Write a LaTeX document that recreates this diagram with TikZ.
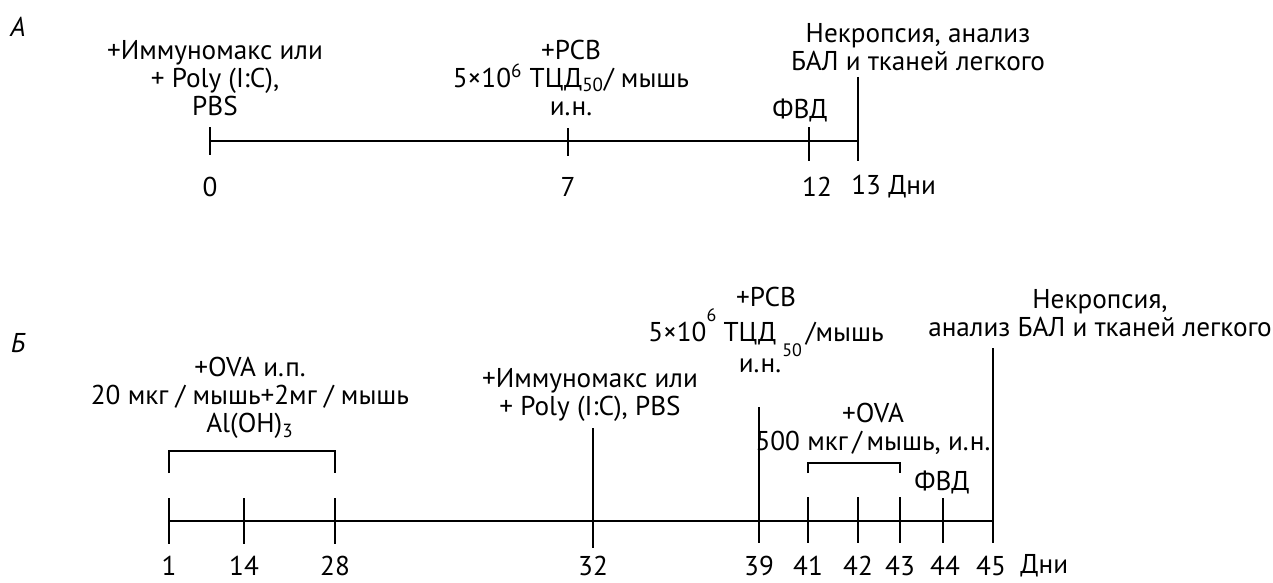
\documentclass[tikz,border=0pt]{standalone}
\usepackage{fontspec}
\setmainfont{PT Sans}
\usetikzlibrary{positioning}

\begin{document}
\begin{tikzpicture}[x=0.5pt, y=-0.5pt,
      lbl/.style={font=\fontsize{13.6}{14}\selectfont, inner sep=0pt, align=center},
      panel/.style={font=\fontsize{13.6}{14}\selectfont\itshape, inner sep=0pt},
      axis/.style={line width=1.3pt}
    ]
      \useasboundingbox (0,0) rectangle (1273,583);

      % --- panel A ---
      \node [panel] (pA) at (18,27) {А};
      \node [lbl] (immA) at (215,78) {+Иммуномакс или\\+ Poly (I:C),\\PBS};
      \node [lbl] (rsvA) at (571,78) {+РСВ\\5×10\textsuperscript{6} ТЦД\textsubscript{50}/ мышь\\и.н.};
      \node [lbl] (fvdA) at (800,110) {ФВД};
      \node [lbl] (necA) at (918,47) {Некропсия, анализ\\БАЛ и тканей легкого};

      \coordinate (a0) at (210,141);
      \coordinate (a13) at (858,141);
      \draw [axis] (a0) -- (a13);
      \draw [axis] (210,127) -- (210,155);
      \draw [axis] (568,128) -- (568,156);
      \draw [axis] (809,127) -- (809,161);
      \draw [axis] (858,77) -- (858,161);

      \node [lbl] (d0) at (210,187) {0};
      \node [lbl] (d7) at (568,187) {7};
      \node [lbl] (d12) at (817,187) {12};
      \node [lbl, anchor=west] (d13) at (851,187) {13 Дни};

      % --- panel B ---
      \node [panel] (pB) at (18,343) {Б};
      \node [lbl] (ovaB) at (250,398) {+OVA и.п.\\20 мкг / мышь+2мг / мышь\\Al(OH)\textsubscript{3}};
      \node [lbl] (immB) at (590,395) {+Иммуномакс или\\+ Poly (I:C), PBS};
      \node [lbl] (rsvB) at (766,330) {+РСВ\\5×10\raisebox{1.5ex}{\fontsize{9}{9}\selectfont 6} ТЦД\kern3pt\raisebox{-1.1ex}{\fontsize{9}{9}\selectfont 50}\kern2pt/мышь\\и.н.\kern6pt};
      \node [lbl] (necB) at (1100,313) {Некропсия,\\анализ БАЛ и тканей легкого};
      \node [lbl] (ova2B) at (873,429) {+OVA\\500 мкг\,/\,мышь, и.н.};
      \node [lbl] (fvdB) at (942,482) {ФВД};

      \coordinate (b1) at (169,521);
      \coordinate (b45) at (993,521);
      \draw [axis] (b1) -- (b45);
      \draw [axis] (169,498) -- (169,544);
      \draw [axis] (244,498) -- (244,544);
      \draw [axis] (335,498) -- (335,544);
      \draw [axis] (593,428) -- (593,548);
      \draw [axis] (759,407) -- (759,543);
      \draw [axis] (808,497) -- (808,543);
      \draw [axis] (858,497) -- (858,543);
      \draw [axis] (900,497) -- (900,543);
      \draw [axis] (943,498) -- (943,543);
      \draw [axis] (993,348) -- (993,543);

      % brackets
      \draw [axis] (169,473) |- (335,451) -- (335,473);
      \draw [axis] (808,473) |- (900,463) -- (900,473);

      \node [lbl] (e1) at (169,566) {1};
      \node [lbl] (e14) at (244,566) {14};
      \node [lbl] (e28) at (335,566) {28};
      \node [lbl] (e32) at (593,566) {32};
      \node [lbl] (e39) at (759,566) {39};
      \node [lbl] (e41) at (808,566) {41};
      \node [lbl] (e42) at (858,566) {42};
      \node [lbl] (e43) at (900,566) {43};
      \node [lbl] (e44) at (945,566) {44};
      \node [lbl] (e45) at (991,566) {45};
      \node [lbl, anchor=west] (eDn) at (1020,566) {Дни};
    \end{tikzpicture}
\end{document}
